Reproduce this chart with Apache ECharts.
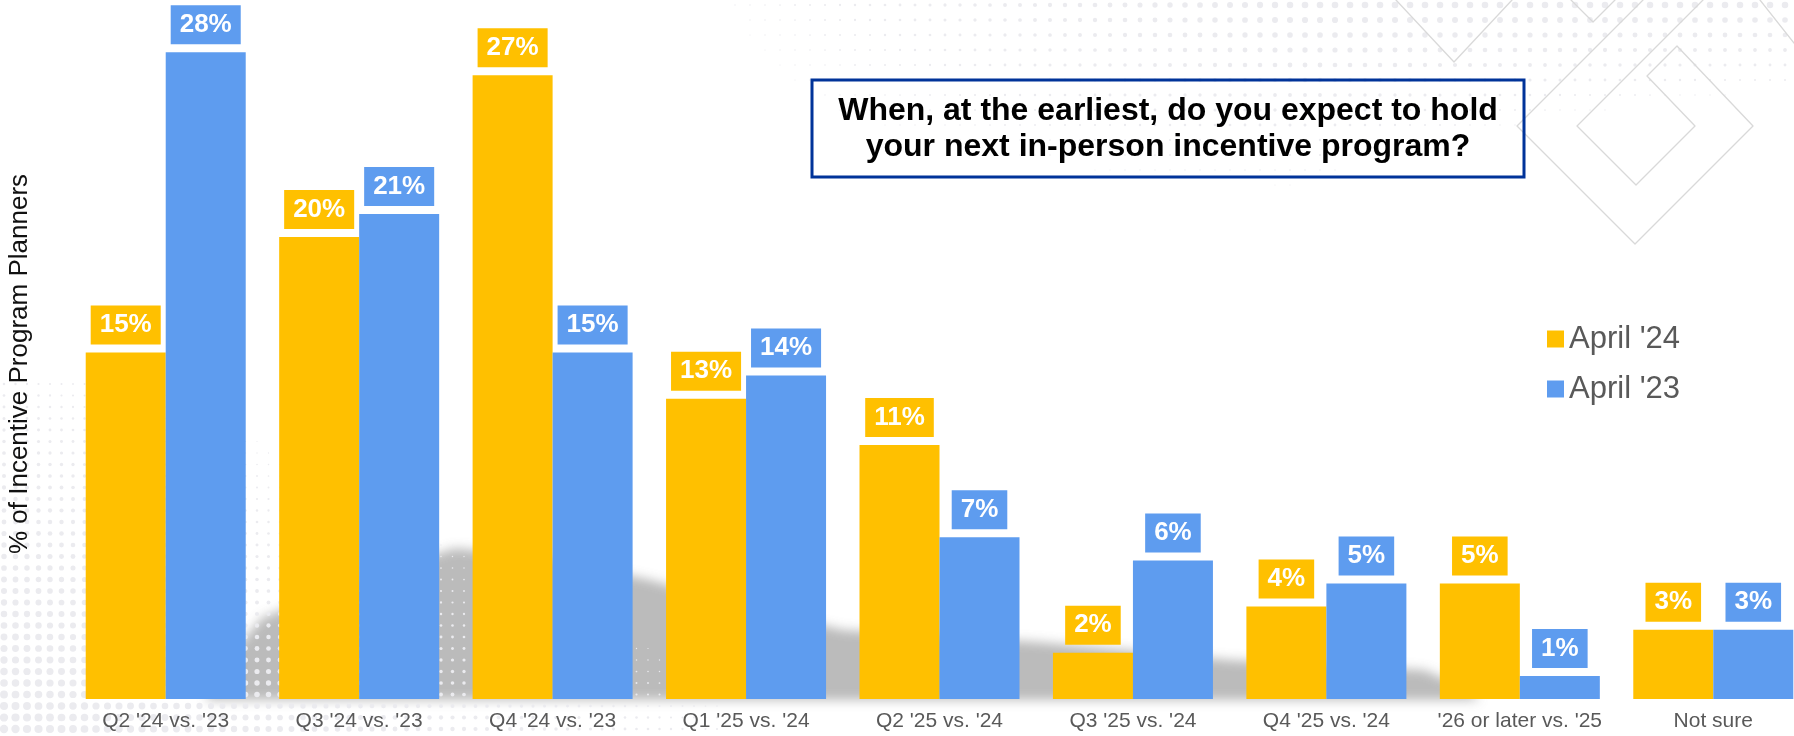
<!DOCTYPE html>
<html>
<head>
<meta charset="utf-8">
<script src="https://cdn.jsdelivr.net/npm/echarts@6/dist/echarts.min.js"></script>
<style>
  html, body { margin: 0; padding: 0; background: #ffffff; }
  #chart { width: 1794px; height: 736px; }
</style>
</head>
<body>
<div id="chart"></div>
<script>
// Survey answers: earliest quarter for the next in-person incentive program
const categories = [
  "Q2 '24 vs. '23", "Q3 '24 vs. '23", "Q4 '24 vs. '23",
  "Q1 '25 vs. '24", "Q2 '25 vs. '24", "Q3 '25 vs. '24",
  "Q4 '25 vs. '24", "'26 or later vs. '25", "Not sure"
];
const seriesNames = ["April '24", "April '23"];
const april24 = [15, 20, 27, 13, 11, 2, 4, 5, 3];
const april23 = [28, 21, 15, 14, 7, 6, 5, 1, 3];
const questionLines = [
  "When, at the earliest, do you expect to hold",
  "your next in-person incentive program?"
];
const yAxisTitle = "% of Incentive Program Planners";

const FONT = "'Liberation Sans', Arial, Helvetica, sans-serif";
const YELLOW = '#FFC000';
const BLUE = '#5E9CEF';

const chart = echarts.init(document.getElementById('chart'), null, { renderer: 'canvas' });

// Halftone dot texture used as page decoration
function dotField(x0, x1, y0, y1, step, sizeAt) {
  const out = [];
  for (let y = y0; y <= y1; y += step) {
    for (let x = x0; x <= x1; x += step) {
      const r = sizeAt(x, y);
      if (r >= 0.6) {
        out.push({
          type: 'circle', silent: true, z: 0,
          shape: { cx: x, cy: y, r: Math.min(r, 4.2) },
          style: { fill: '#ebebef' }
        });
      }
    }
  }
  return out;
}

const clamp01 = v => Math.max(0, Math.min(1, v));

// lower-left field: large dots in the corner, fading up and to the right
const lowerDots = dotField(4, 720, 384, 736, 11.5, (x, y) => {
  const f = 1 - (736 - y) / 500 - x / 950;
  return 4.3 * f;
});
// top band: strong along the top edge, fading downward and towards the left
const upperDots = dotField(600, 1794, 5, 215, 15, (x, y) => {
  const k = 0.015 + clamp01((x - 1300) / 450) * 0.015;
  const fade = clamp01((x - 600) / 700);
  return (3.4 - y * k) * fade;
});

// Soft grey shadow band behind the bars (drawn off-canvas, only its blurred shadow shows)
const SHIFT = 4000;
const ribbon = [
  [205, 700], [235, 650], [262, 618], [330, 590], [455, 548], [560, 560],
  [650, 580], [750, 608], [843, 630], [1037, 642], [1230, 660], [1424, 670],
  [1470, 690], [1480, 700]
].map(p => [p[0] + SHIFT, p[1]]);

// Outline ornaments in the top-right corner
const lineStyle = { fill: 'none', stroke: '#d9d9d9', lineWidth: 1.3, lineJoin: 'round', lineCap: 'round' };
const decorLines = [
  [[1643, 0], [1517, 126], [1635, 244], [1753, 126], [1677, 46], [1647, 76],
   [1695, 126], [1636, 185], [1577, 126], [1703, 0]],
  [[1396, 0], [1454, 62], [1512, 0]],
  [[1571, 0], [1593, 22], [1615, 0]],
  [[1760, 0], [1794, 43]]
].map(pts => ({
  type: 'polyline', silent: true, z: 0,
  shape: { points: pts },
  style: lineStyle
}));

const labelStyle = (bg) => ({
  show: true,
  position: 'top',
  distance: 8,
  formatter: '{c}%',
  color: '#ffffff',
  fontFamily: FONT,
  fontWeight: 'bold',
  fontSize: 26,
  lineHeight: 27,
  backgroundColor: bg,
  padding: [6, 9, 6, 9]
});

const option = {
  backgroundColor: '#ffffff',
  animation: false,
  grid: {
    left: 69, top: 6, width: 1741, bottom: 37,
    containLabel: false,
    outerBoundsMode: 'none'
  },
  legend: {
    orient: 'vertical',
    left: 1547,
    top: 322,
    padding: 0,
    itemWidth: 17,
    itemHeight: 17,
    itemGap: 16,
    icon: 'rect',
    data: seriesNames,
    textStyle: { fontFamily: FONT, fontSize: 31, color: '#595959', lineHeight: 34 }
  },
  xAxis: {
    type: 'category',
    data: categories,
    z: 5,
    axisLine: { show: false },
    axisTick: { show: false },
    axisLabel: {
      fontFamily: FONT,
      fontSize: 21,
      color: '#595959',
      margin: 12,
      interval: 0
    }
  },
  yAxis: { type: 'value', min: 0, max: 30, show: false },
  series: [
    {
      name: seriesNames[0],
      type: 'bar',
      data: april24,
      barWidth: 80,
      barGap: '0%',
      itemStyle: { color: YELLOW },
      label: labelStyle(YELLOW)
    },
    {
      name: seriesNames[1],
      type: 'bar',
      data: april23,
      barWidth: 80,
      barGap: '0%',
      itemStyle: { color: BLUE },
      label: labelStyle(BLUE)
    }
  ],
  graphic: [
    {
      type: 'polygon', silent: true, z: 0,
      shape: { points: ribbon },
      style: {
        fill: '#888888',
        shadowColor: 'rgba(175,175,175,0.85)',
        shadowBlur: 11,
        shadowOffsetX: -SHIFT,
        shadowOffsetY: 0
      }
    },
    ...lowerDots,
    ...upperDots,
    ...decorLines,
    {
      type: 'rect', silent: true, z: 10,
      shape: { x: 812, y: 80, width: 712, height: 97 },
      style: { fill: 'none', stroke: '#003399', lineWidth: 3 }
    },
    {
      type: 'text', silent: true, z: 10,
      x: 1168, y: 129,
      style: {
        text: questionLines.join('\n'),
        fontFamily: FONT,
        fontWeight: 'bold',
        fontSize: 32,
        lineHeight: 36,
        fill: '#000000',
        align: 'center',
        verticalAlign: 'middle'
      }
    },
    {
      type: 'text', silent: true, z: 10,
      x: 20, y: 364,
      rotation: Math.PI / 2,
      style: {
        text: yAxisTitle,
        fontFamily: FONT,
        fontSize: 26,
        fill: '#111111',
        align: 'center',
        verticalAlign: 'middle'
      }
    }
  ]
};

chart.setOption(option);
</script>
</body>
</html>
